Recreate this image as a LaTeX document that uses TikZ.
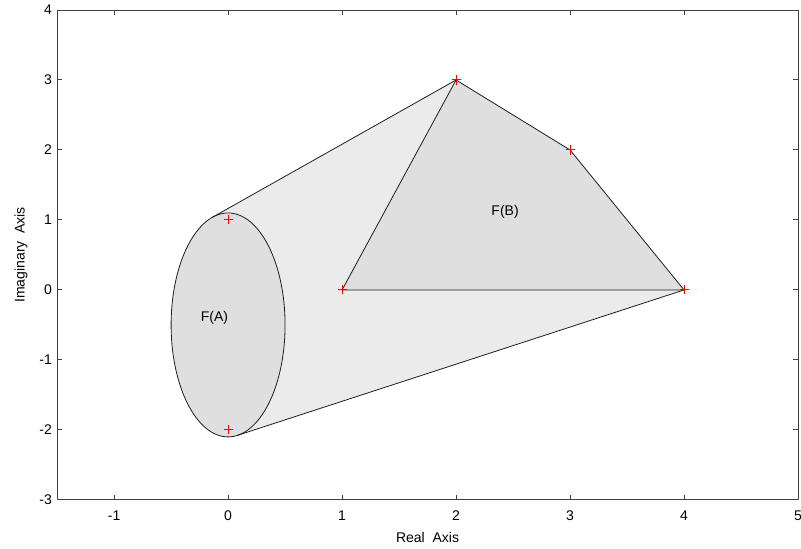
\documentclass[tikz,border=0pt]{standalone}
\usepackage{fontspec}
\setmainfont{Liberation Sans}
\usepackage{tikz}
\usetikzlibrary{shapes.geometric}
\definecolor{hullgray}{HTML}{EBEBEB}
\definecolor{setgray}{HTML}{DFDFDF}
\definecolor{edgegray}{HTML}{1E1E1E}

\begin{document}
\begin{tikzpicture}[
    x=85.35pt, y=52.4pt,
    kante/.style = {draw=edgegray, line width=0.6pt},
    achse/.style = {draw=black!75, line width=0.75pt},
    kreuz/.style = {draw=red, line width=0.75pt},
    ticklbl/.style = {inner sep=0pt},
    font=\fontsize{10.5}{12}\selectfont
    ]
  \useasboundingbox (-2.001,-3.701) rectangle (5.026,4.143);

  % points of A and B
  \coordinate (a1) at (0,1) ;
  \coordinate (a2) at (0,-2) ;
  \coordinate (b1) at (1,0) ;
  \coordinate (b2) at (2,3) ;
  \coordinate (b3) at (3,2) ;
  \coordinate (b4) at (4,0) ;
  % tangent points on the ellipse
  \coordinate (tA) at (-0.138,1.038) ;
  \coordinate (tB) at (0.082,-2.078) ;

  % convex hull
  \fill[hullgray] (tA) -- (b2) -- (b3) -- (b4) -- (tB) -- cycle ;

  \node[ellipse, kante, fill=setgray, inner sep=0pt,
        minimum width=85.35pt, minimum height=3.2*52.4pt] (FA) at (0,-0.5) {} ;
  \filldraw[kante, fill=setgray] (b1) -- (b2) -- (b3) -- (b4) -- cycle ;

  \draw[kante] (tA) -- (b2)
               (tB) -- (b4) ;

  \node (labelA) at (-0.12,-0.40) {F(A)} ;
  \node (labelB) at (2.43,1.12) {F(B)} ;

  % crosses
  \foreach \p in {a1,a2,b1,b2,b3,b4}
    \draw[kreuz] (\p) +(-3.4pt,0) -- +(3.4pt,0) +(0,-3.4pt) -- +(0,3.4pt) ;

  % axes box and ticks
  \draw[achse] (-1.5,-3) rectangle (5,4) ;
  \foreach \x in {-1,0,...,4} {
    \draw[achse] (\x,-3) -- +(0,3.75pt) (\x,4) -- +(0,-3.75pt) ;
  }
  \foreach \x in {-1,0,...,5}
    \node[ticklbl] (xt\x) at (\x,-3.229) {\x} ;
  \foreach \y in {-2,-1,...,3} {
    \draw[achse] (-1.5,\y) -- +(3.75pt,0) (5,\y) -- +(-3.75pt,0) ;
  }
  \foreach \y in {-3,-2,...,4}
    \node[ticklbl, anchor=east] (yt\y) at (-1.544,\y) {\y} ;

  \node (xlabel) at (1.75,-3.544) {Real~~Axis} ;
  \node[rotate=90] (ylabel) at (-1.816,0.5) {Imaginary~~Axis} ;
\end{tikzpicture}
\end{document}
